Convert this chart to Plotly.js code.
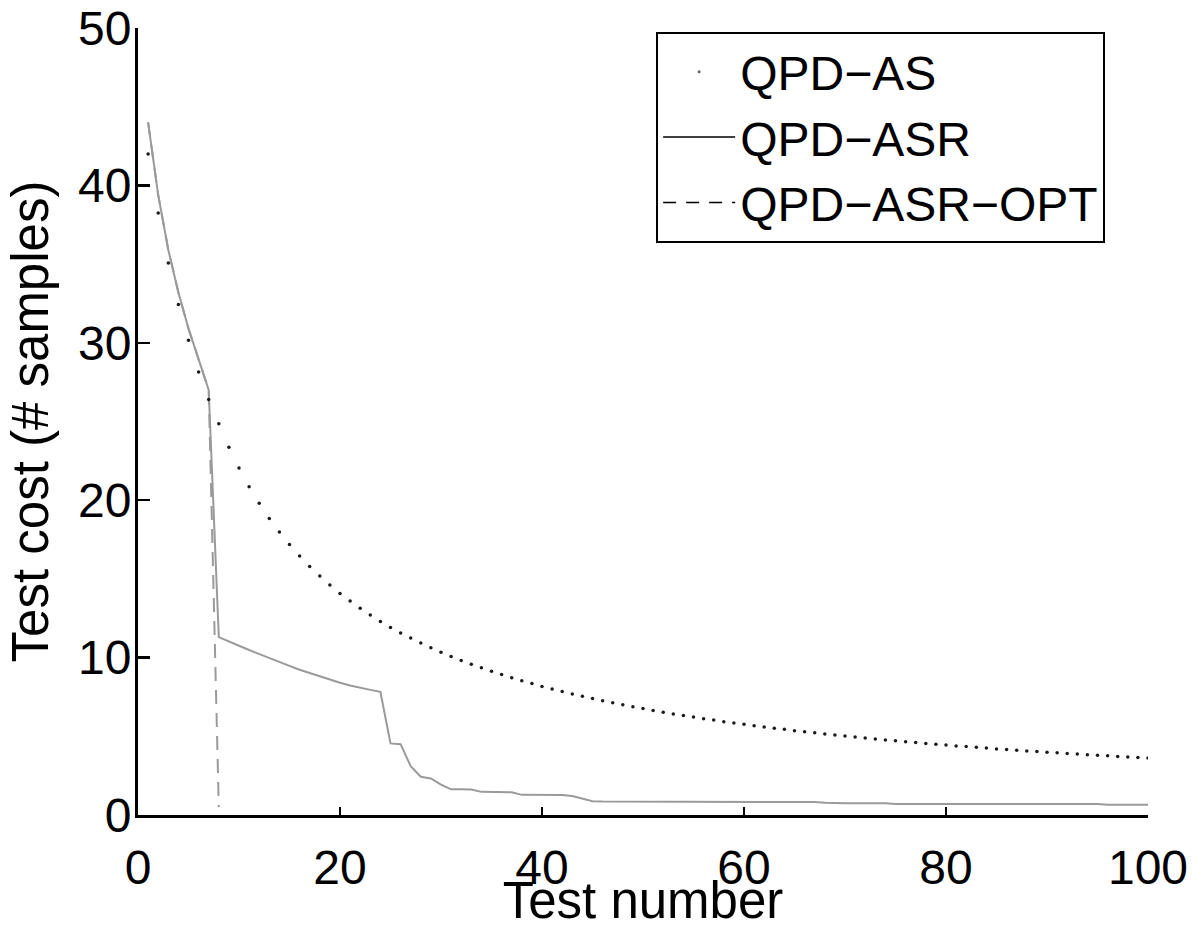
<!DOCTYPE html>
<html>
<head>
<meta charset="utf-8">
<script src="https://cdn.plot.ly/plotly-3.0.1.min.js"></script>
<style>html,body{margin:0;padding:0;background:#fff;}#chart{width:1201px;height:929px;}</style>
</head>
<body>
<div id="chart"></div>
<script>
// Test numbers (x axis)
const testNumber = [1,2,3,4,5,6,7,8,9,10,11,12,13,14,15,16,17,18,19,20,
  21,22,23,24,25,26,27,28,29,30,31,32,33,34,35,36,37,38,39,40,
  41,42,43,44,45,46,47,48,49,50,51,52,53,54,55,56,57,58,59,60,
  61,62,63,64,65,66,67,68,69,70,71,72,73,74,75,76,77,78,79,80,
  81,82,83,84,85,86,87,88,89,90,91,92,93,94,95,96,97,98,99,100];

// QPD-AS (dotted) test cost
const qpdAS = [42.0,38.24,35.07,32.43,30.16,28.15,26.4,24.85,23.36,22.04,
  20.86,19.80,18.84,17.98,17.18,16.46,15.79,15.18,14.61,14.08,
  13.59,13.13,12.70,12.30,11.92,11.57,11.24,10.92,10.62,10.34,
  10.07,9.82,9.58,9.35,9.13,8.92,8.72,8.53,8.35,8.17,
  8.01,7.84,7.69,7.54,7.40,7.26,7.13,7.00,6.88,6.76,
  6.64,6.53,6.42,6.32,6.22,6.12,6.03,5.93,5.84,5.76,
  5.67,5.59,5.51,5.44,5.36,5.29,5.22,5.15,5.08,5.02,
  4.95,4.89,4.83,4.77,4.71,4.66,4.60,4.55,4.50,4.44,
  4.39,4.35,4.30,4.25,4.20,4.16,4.12,4.07,4.03,3.99,
  3.95,3.91,3.87,3.83,3.80,3.76,3.72,3.69,3.65,3.62];

// QPD-ASR (solid) test cost
const qpdASR = [44.0,39.4,35.9,33.2,30.9,28.9,27.0,11.3,11.0,10.75,
  10.48,10.22,9.95,9.7,9.47,9.23,9.02,8.8,8.6,8.4,
  8.23,8.08,7.95,7.83,4.55,4.5,3.1,2.43,2.32,1.93,
  1.63,1.63,1.62,1.47,1.46,1.46,1.45,1.28,1.27,1.27,
  1.27,1.27,1.2,1.05,0.87,0.85,0.85,0.85,0.85,0.85,
  0.85,0.85,0.85,0.85,0.85,0.85,0.85,0.85,0.85,0.85,
  0.85,0.85,0.85,0.85,0.85,0.85,0.82,0.78,0.75,0.75,
  0.75,0.75,0.75,0.75,0.70,0.70,0.70,0.70,0.70,0.70,
  0.70,0.70,0.70,0.70,0.70,0.70,0.70,0.70,0.70,0.70,
  0.70,0.70,0.70,0.70,0.70,0.65,0.65,0.65,0.65,0.65];

// QPD-ASR-OPT (dashed) test cost
const optTestNumber = [1,2,3,4,5,6,7,8];
const qpdASROpt = [44.0,39.4,35.9,33.2,30.9,28.9,27.0,0.5];

const seriesNames = ['QPD\u2212AS','QPD\u2212ASR','QPD\u2212ASR\u2212OPT'];

const xTicks = [0,20,40,60,80,100];
const yTicks = [0,10,20,30,40,50];

const FONT = '"Liberation Sans", Arial, Helvetica, sans-serif';

const traces = [
  {x: optTestNumber, y: qpdASROpt, mode: 'lines', showlegend: false,
   line: {color: '#9a9a9a', width: 2, dash: '14px,9px'}},
  {x: testNumber, y: qpdASR, mode: 'lines', showlegend: false,
   line: {color: '#9a9a9a', width: 2}},
  {x: testNumber, y: qpdAS, mode: 'markers', showlegend: false,
   marker: {color: '#1a1a1a', size: 3.5}},
  // legend entries
  {x: [null], y: [null], name: seriesNames[0], mode: 'markers',
   marker: {color: '#666', size: 3}},
  {x: [null], y: [null], name: seriesNames[1], mode: 'lines',
   line: {color: '#000', width: 1.5}},
  {x: [null], y: [null], name: seriesNames[2], mode: 'lines',
   line: {color: '#000', width: 1.5, dash: '13px,10px'}}
];

const layout = {
  width: 1201, height: 929,
  margin: {l: 138, r: 53, t: 28, b: 114},
  paper_bgcolor: '#fff', plot_bgcolor: '#fff',
  font: {family: FONT, color: '#000', size: 48},
  showlegend: true,
  legend: {
    x: 0.513, y: 0.995, xanchor: 'left', yanchor: 'top',
    bgcolor: '#fff', bordercolor: '#000', borderwidth: 2,
    font: {family: FONT, size: 48, color: '#000'},
    itemwidth: 72, tracegroupgap: 0
  },
  xaxis: {
    range: [0, 100], tickvals: xTicks, ticktext: xTicks.map(String),
    ticks: 'inside', ticklen: 8, tickwidth: 2.5, tickcolor: '#000',
    showline: true, linewidth: 3, linecolor: '#000',
    showgrid: false, zeroline: false, mirror: false,
    ticklabelstandoff: 8,
    tickfont: {family: FONT, size: 48, color: '#000'},
    title: {text: 'Test number', font: {family: FONT, size: 51, color: '#000'}}
  },
  yaxis: {
    range: [0, 50], tickvals: yTicks, ticktext: yTicks.map(String),
    ticks: 'inside', ticklen: 12, tickwidth: 2.5, tickcolor: '#000',
    showline: true, linewidth: 3, linecolor: '#000',
    showgrid: false, zeroline: false, mirror: false,
    ticklabelstandoff: -6,
    automargin: 'left',
    tickfont: {family: FONT, size: 48, color: '#000'},
    title: {text: 'Test cost (# samples)', standoff: 14,
            font: {family: FONT, size: 51, color: '#000'}}
  }
};

Plotly.newPlot('chart', traces, layout, {staticPlot: true, displayModeBar: false});
</script>
</body>
</html>
